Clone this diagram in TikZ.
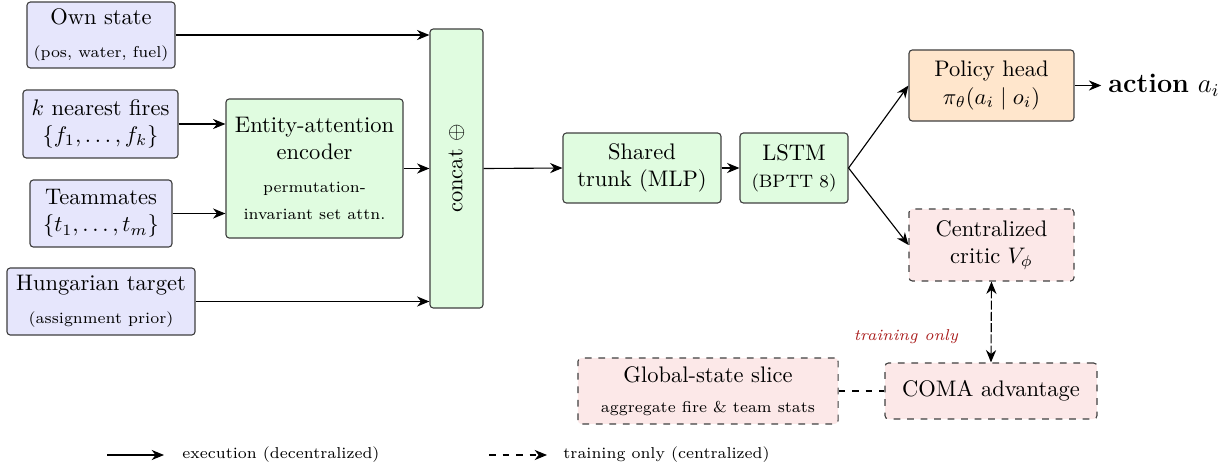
\documentclass[tikz,border=0pt]{standalone}
\usetikzlibrary{arrows.meta}
\definecolor{inblue}{RGB}{230,230,252}
\definecolor{netgreen}{RGB}{224,252,224}
\definecolor{headorange}{RGB}{255,230,204}
\definecolor{critpink}{RGB}{252,232,232}
\definecolor{trainred}{RGB}{170,30,30}
\tikzset{
  box/.style={draw=black!75, rounded corners=1.5pt, align=center, inner sep=2pt, line width=0.5pt},
  inbox/.style={box, fill=inblue},
  netbox/.style={box, fill=netgreen},
  headbox/.style={box, fill=headorange},
  trainbox/.style={box, fill=critpink, dashed},
  flow/.style={-{Stealth[length=5.5pt,width=4.5pt]}, line width=0.5pt},
  trainflow/.style={{Stealth[length=5.5pt,width=4.5pt]}-{Stealth[length=5.5pt,width=4.5pt]}, line width=0.5pt, dash pattern=on 4pt off 1pt},
  trainlink/.style={line width=0.5pt, dashed},
}
\begin{document}
\begin{tikzpicture}[x=0.4444pt, y=-0.4444pt]
\useasboundingbox (0,0) rectangle (1226,467);

% observation inputs
\node[inbox, minimum width=65.8pt, minimum height=29.3pt] (own) at (101,35)
  {Own state\\[2.5pt]{\scriptsize (pos, water, fuel)}};
\node[inbox, minimum width=68.9pt, minimum height=30.2pt] (fires) at (100.5,124)
  {$k$ nearest fires\\$\{f_1,\dots,f_k\}$};
\node[inbox, minimum width=63.1pt, minimum height=29.8pt] (mates) at (101,213.5)
  {Teammates\\$\{t_1,\dots,t_m\}$};
\node[inbox, minimum width=83.6pt, minimum height=29.8pt] (hung) at (101,301.5)
  {Hungarian target\\[2.5pt]{\scriptsize (assignment prior)}};

% encoder and concatenation
\node[netbox, minimum width=78.7pt, minimum height=61.8pt] (enc) at (314.5,168.5)
  {Entity-attention\\encoder\\[3pt]{\scriptsize permutation-}\\{\scriptsize invariant set attn.}};
\node[netbox, minimum width=23.6pt, minimum height=124pt,
  label={[rotate=90]center:concat $\oplus$}] (cat) at (456.5,168.5) {};

% recurrent trunk
\node[netbox, minimum width=70.2pt, minimum height=31.1pt] (trunk) at (642,168)
  {Shared\\trunk (MLP)};
\node[netbox, minimum width=48pt, minimum height=31.1pt] (lstm) at (794,168)
  {LSTM\\{\footnotesize (BPTT 8)}};

% heads
\node[headbox, minimum width=73.3pt, minimum height=31.6pt] (pol) at (991.5,85.5)
  {Policy head\\$\pi_\theta(a_i \mid o_i)$};
\node[anchor=west, inner sep=0pt, font=\large] (act) at (1108,85.5) {\textbf{action} $a_i$};
\node[trainbox, minimum width=73.3pt, minimum height=32pt] (crit) at (991.5,245)
  {Centralized\\critic $V_\phi$};

% training-only blocks
\node[trainbox, minimum width=94.2pt, minimum height=24.9pt] (coma) at (991,391)
  {COMA advantage};
\node[trainbox, minimum width=115.6pt, minimum height=29.3pt] (glob) at (708,391)
  {Global-state slice\\[1.5pt]{\scriptsize aggregate fire \& team stats}};
\node[font=\scriptsize\itshape, text=trainred] (tonly) at (906,337) {training only};

% execution path
\draw[flow] (own.east) -- (own.east -| cat.west);
\draw[flow] (fires.east) -- (fires.east -| enc.west);
\draw[flow] (mates.east) -- (mates.east -| enc.west);
\draw[flow] (hung.east) -- (hung.east -| cat.west);
\draw[flow] (enc.east) -- (enc.east -| cat.west);
\draw[flow] (cat.east) -- (trunk.west);
\draw[flow] (trunk.east) -- (lstm.west);
\draw[flow] (lstm.east) -- (pol.west);
\draw[flow] (lstm.east) -- (crit.west);
\draw[flow, shorten >=3pt] (pol.east) -- (act.west);

% training path
\draw[trainflow] (crit.south) -- (coma.north);
\draw[trainlink] (glob.east) -- (coma.west);

% legend
\coordinate (l1a) at (107,455);
\coordinate (l1b) at (164,455);
\coordinate (l2a) at (489,455);
\coordinate (l2b) at (547,455);
\node[anchor=west, font=\scriptsize, inner sep=0pt] (l1t) at (182,455) {execution (decentralized)};
\node[anchor=west, font=\scriptsize, inner sep=0pt] (l2t) at (563,455) {training only (centralized)};
\draw[flow] (l1a) -- (l1b);
\draw[flow, dashed] (l2a) -- (l2b);
\end{tikzpicture}
\end{document}
